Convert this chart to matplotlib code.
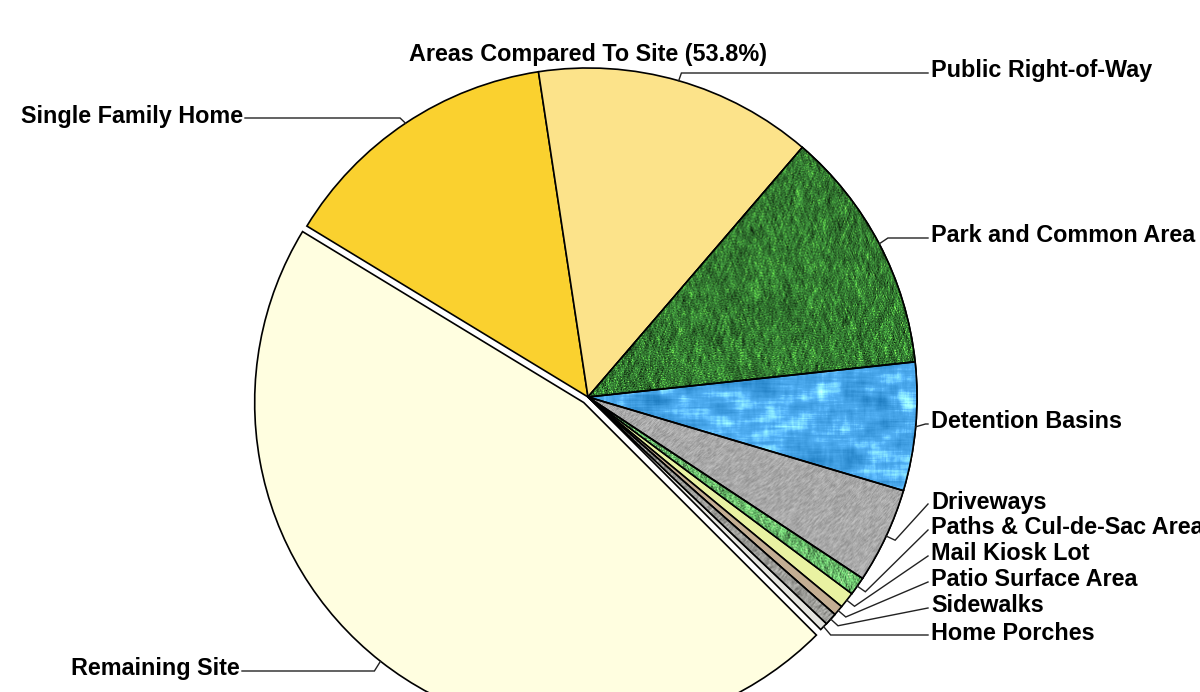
import numpy as np
import matplotlib.pyplot as plt

# land use breakdown, percent of site
areas = ['Single Family Home', 'Public Right-of-Way', 'Park and Common Area',
         'Detention Basins', 'Driveways', 'Paths & Cul-de-Sac Area',
         'Mail Kiosk Lot', 'Patio Surface Area', 'Sidewalks', 'Home Porches',
         'Remaining Site']
shares = [13.9, 13.7, 12.0, 6.3, 4.7, 0.9, 0.8, 0.5, 0.6, 0.4, 46.2]

colors = ['#FAD12F', '#FCE38A', '#347A32', '#4AA8EC', '#A9A9A9', '#68BC6A',
          '#E9F2A2', '#C4AE93', '#9C9C98', '#E4E4E0', '#FFFEE0']
# which wedges get an image texture
textures = {2: 'grass', 3: 'water', 4: 'stucco', 5: 'grass', 8: 'granite'}

# label anchor points (pixels from top-left)
label_pos = [(243, 116), (931, 71), (931, 236), (931, 422), (931, 502),
             (931, 528), (931, 554), (931, 580), (931, 606), (931, 633),
             (240, 669)]

W, H = 1200, 692
rng = np.random.default_rng(7)


def blur(a, n, dx=1, dy=1):
    out = np.zeros_like(a)
    for k in range(-n, n + 1):
        out += np.roll(np.roll(a, k * dy, axis=0), k * dx, axis=1)
    return out / (2 * n + 1)


def norm(t):
    return (t - t.mean()) / t.std()


def make_texture(kind, base, size=660):
    base = np.array(plt.matplotlib.colors.to_rgb(base))
    if kind == 'grass':
        t = np.zeros((size, size))
        for dx, dy in [(1, 3), (-1, 3), (1, 2), (-1, 2), (0, 1)]:
            t += norm(blur(rng.random((size, size)), 3, dx, dy))
        t = norm(t)
        img = base[None, None, :] * (1 + 0.30 * t[..., None])
        blades = np.clip(t - 1.2, 0, None)
        img[..., 0] += 0.10 * blades
        img[..., 1] += 0.18 * blades
    elif kind == 'water':
        t = blur(blur(rng.random((size, size)), 12, 1, 0), 5, 0, 1)
        t = norm(t)
        img = base[None, None, :] + 0.05 * t[..., None]
        img += 0.10 * np.clip(t - 0.5, 0, None)[..., None]
    else:
        t = norm(blur(rng.random((size, size)), 1, 1, 1))
        amp = 0.05 if kind == 'stucco' else 0.09
        img = base[None, None, :] + amp * t[..., None]
    return np.clip(img, 0, 1)


fig = plt.figure(figsize=(12, 6.92), dpi=100)
ax = fig.add_axes([0, 0, 1, 1])

explode = [0] * (len(shares) - 1) + [7]
wedges, _ = ax.pie(shares, colors=colors, startangle=148.7, counterclock=False,
                   center=(588, H - 397), radius=329, explode=explode,
                   wedgeprops=dict(edgecolor='black', linewidth=1.2),
                   frame=True)
ax.set_xlim(0, W)
ax.set_ylim(0, H)
ax.set_aspect('equal')
ax.axis('off')

for i, kind in textures.items():
    w = wedges[i]
    cx, cy = w.center
    r = w.r
    img = make_texture(kind, colors[i])
    im = ax.imshow(img, extent=(cx - r, cx + r, cy - r, cy + r),
                   origin='lower', zorder=w.get_zorder() + 0.01,
                   interpolation='bilinear')
    im.set_clip_path(w)
    # outline back on top of the texture
    ax.add_patch(plt.matplotlib.patches.Wedge(
        (cx, cy), r, w.theta1, w.theta2, facecolor='none',
        edgecolor='black', linewidth=1.2, zorder=w.get_zorder() + 0.02))

fnt = dict(family='Liberation Sans', fontweight='bold', fontsize=16.8)

for w, name, (lx, ly) in zip(wedges, areas, label_pos):
    cx, cy = w.center
    th = np.deg2rad((w.theta1 + w.theta2) / 2)
    ex, ey = cx + w.r * np.cos(th), cy + w.r * np.sin(th)
    bx, by = cx + 1.03 * w.r * np.cos(th), cy + 1.03 * w.r * np.sin(th)
    y = H - ly - 2
    if abs(by - y) < 12:
        by = y
    left = lx < 588
    tx = lx + 2 if left else lx - 3
    ax.plot([ex, bx, tx], [ey, by, y], color='#222222', lw=1.0,
            zorder=5, solid_joinstyle='miter')
    ax.text(lx, H - ly, name, ha='right' if left else 'left', va='center',
            color='black', zorder=6, **fnt)

site_share = sum(shares[:-1])
ax.text(588, H - 54, f'Areas Compared To Site ({site_share:.1f}%)',
        ha='center', va='center', color='black', **fnt)

fig.savefig('out.png', dpi=100, facecolor='white')
